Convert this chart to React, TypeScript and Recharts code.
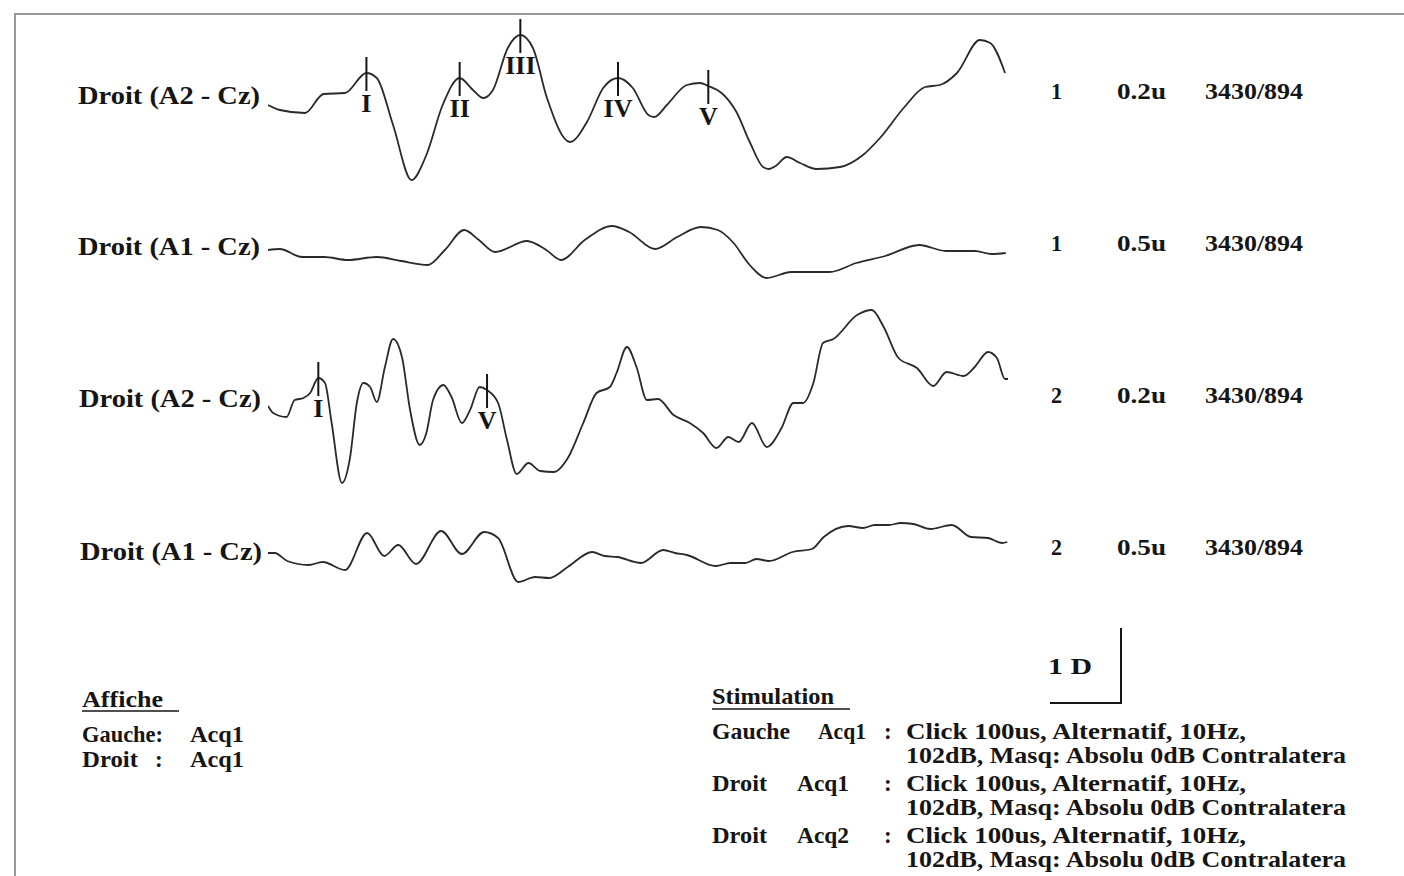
import React from 'react';
import { LineChart, Line, XAxis, YAxis, ReferenceDot } from 'recharts';

// time in ms (0-10), amplitude in arbitrary units (positive = up), relative to trace start
const traceA: [number, number][] = [
  [0, 0], [0.16, -5], [0.5, -8], [0.75, 11], [1.04, 12], [1.33, 32], [1.47, 27], [1.69, -20],
  [1.94, -75], [2.14, -50], [2.36, 0], [2.59, 27], [2.77, 15], [2.91, 7], [3.04, 15], [3.24, 57],
  [3.41, 70], [3.58, 57], [3.77, 7], [4.08, -37], [4.31, -17], [4.53, 17], [4.73, 27], [4.93, 17],
  [5.14, -10], [5.22, -12], [5.39, 0], [5.66, 20], [5.84, 22], [5.95, 19], [6.13, 12], [6.33, -7],
  [6.51, -37], [6.69, -62], [6.77, -64], [6.86, -61], [7.01, -52], [7.19, -58], [7.41, -64], [7.73, -62],
  [8.04, -50], [8.27, -33], [8.59, -3], [8.88, 18], [9.08, 20], [9.31, 32], [9.62, 65], [9.76, 62],
  [9.96, 32],
];

const traceB: [number, number][] = [
  [0, 0], [0.16, 1], [0.46, -7], [0.76, -7], [1.08, -10], [1.47, -7], [1.8, -11], [2.16, -15],
  [2.39, 0], [2.65, 20], [2.85, 10], [3.07, -2], [3.5, 9], [3.76, 0], [3.96, -10], [4.28, 10],
  [4.65, 24], [4.88, 18], [5.23, 1], [5.53, 13], [5.85, 23], [6.08, 20], [6.28, 8], [6.51, -15],
  [6.74, -28], [7.07, -22], [7.59, -22], [7.95, -13], [8.34, -6], [8.8, 5], [9.16, -1], [9.55, -1],
  [9.78, -4], [9.97, -3],
];

const traceC: [number, number][] = [
  [0, 0], [0.07, -7], [0.25, -11], [0.36, 6], [0.48, 8], [0.57, 13], [0.68, 28], [0.77, 23],
  [0.86, -17], [1.0, -77], [1.11, -51], [1.2, 3], [1.29, 23], [1.38, 19], [1.47, 4], [1.58, 39],
  [1.69, 67], [1.81, 49], [1.92, -4], [2.05, -39], [2.14, -27], [2.23, 6], [2.37, 21], [2.48, 9],
  [2.62, -17], [2.73, -4], [2.86, 19], [2.96, 16], [3.11, 3], [3.23, -34], [3.36, -68], [3.52, -57],
  [3.68, -65], [3.86, -66], [4.06, -51], [4.26, -17], [4.44, 13], [4.62, 19], [4.71, 33], [4.85, 59],
  [4.98, 39], [5.12, 6], [5.27, 7], [5.48, -9], [5.7, -17], [5.88, -27], [6.06, -42], [6.22, -31],
  [6.36, -36], [6.54, -17], [6.74, -41], [6.94, -22], [7.1, 3], [7.23, 3], [7.37, 23], [7.5, 63],
  [7.64, 67], [7.96, 91], [8.16, 96], [8.32, 79], [8.52, 48], [8.77, 38], [8.99, 20], [9.17, 34],
  [9.4, 30], [9.55, 39], [9.73, 54], [9.85, 48], [9.96, 27], [10, 27],
];

const traceD: [number, number][] = [
  [0, 0], [0.09, 0], [0.26, -8], [0.55, -12], [0.74, -9], [1.04, -17], [1.34, 20], [1.57, -3],
  [1.76, 8], [2.0, -11], [2.34, 22], [2.62, -1], [2.92, 21], [3.11, 15], [3.38, -29], [3.61, -24],
  [3.8, -25], [4.05, -14], [4.38, 1], [4.55, -3], [4.72, -4], [5.04, -10], [5.34, 3], [5.5, 0],
  [5.66, -2], [6.05, -13], [6.25, -10], [6.45, -10], [6.6, -6], [6.77, -8], [7.09, 1], [7.35, 4],
  [7.51, 16], [7.84, 27], [8.04, 25], [8.2, 28], [8.39, 28], [8.55, 30], [8.72, 29], [8.95, 24],
  [9.24, 28], [9.5, 16], [9.73, 15], [9.92, 10], [9.99, 11],
];

const peaksA = [
  { name: 'I', t: 1.33, v: 32 },
  { name: 'II', t: 2.59, v: 27 },
  { name: 'III', t: 3.41, v: 70 },
  { name: 'IV', t: 4.73, v: 27 },
  { name: 'V', t: 5.95, v: 19 },
];
const peaksC = [
  { name: 'I', t: 0.68, v: 28 },
  { name: 'V', t: 2.96, v: 16 },
];

const traceLabels = ['Droit (A2 - Cz)', 'Droit (A1 - Cz)', 'Droit (A2 - Cz)', 'Droit (A1 - Cz)'];
const acqNumbers = ['1', '1', '2', '2'];
const gains = ['0.2u', '0.5u', '0.2u', '0.5u'];
const sweeps = ['3430/894', '3430/894', '3430/894', '3430/894'];

const stimRows = [
  { side: 'Gauche', acq: 'Acq1', line1: 'Click 100us, Alternatif, 10Hz,', line2: '102dB, Masq: Absolu 0dB Contralatera' },
  { side: 'Droit', acq: 'Acq1', line1: 'Click 100us, Alternatif, 10Hz,', line2: '102dB, Masq: Absolu 0dB Contralatera' },
  { side: 'Droit', acq: 'Acq2', line1: 'Click 100us, Alternatif, 10Hz,', line2: '102dB, Masq: Absolu 0dB Contralatera' },
];

const INK = '#151515';
const FONT = '"Liberation Serif", "Times New Roman", serif';

// vertical bands for each trace (page pixels), 1 unit = 1px
const bands = [
  { top: 15, height: 180, domain: [-90, 90], labelX: 78, labelY: 104, colY: 99 },
  { top: 200, height: 100, domain: [-50, 50], labelX: 78, labelY: 255, colY: 251 },
  { top: 296, height: 220, domain: [-110, 110], labelX: 79, labelY: 407, colY: 403 },
  { top: 503, height: 100, domain: [-50, 50], labelX: 80, labelY: 560, colY: 555 },
];
const traces = [traceA, traceB, traceC, traceD];
const peaks = [peaksA, [], peaksC, []];

const PeakMark = ({ cx, cy, name }: any) => (
  <g>
    <line x1={cx} x2={cx} y1={cy - 16} y2={cy + 18} stroke={INK} strokeWidth={2} />
    <text x={cx} y={cy + 39} textAnchor="middle" fontFamily={FONT} fontWeight="bold" fontSize={26} fill={INK}>
      {name}
    </text>
  </g>
);

const Trace = ({ points, marks, band }: any) => {
  const data = points.map(([t, v]: [number, number]) => ({ t, v }));
  return (
    <div style={{ position: 'absolute', left: 268, top: band.top, width: 740, height: band.height }}>
      <LineChart width={740} height={band.height} data={data} margin={{ top: 0, right: 0, bottom: 0, left: 0 }} style={{ overflow: 'visible' }}>
        <XAxis type="number" dataKey="t" domain={[0, 10]} hide />
        <YAxis type="number" domain={band.domain} hide allowDataOverflow />
        <Line type="monotone" dataKey="v" stroke="#2a2a2a" strokeWidth={1.8} dot={false} isAnimationActive={false} />
        {marks.map((p: any) => (
          <ReferenceDot
            key={p.name}
            x={p.t}
            y={p.v}
            ifOverflow="visible"
            shape={(sp: any) => <PeakMark cx={sp.cx} cy={sp.cy} name={p.name} />}
          />
        ))}
      </LineChart>
    </div>
  );
};

const T = ({ x, y, len, size = 22, children }: any) => (
  <text
    x={x}
    y={y}
    fontFamily={FONT}
    fontWeight="bold"
    fontSize={size}
    fill={INK}
    textLength={len}
    lengthAdjust={len ? 'spacingAndGlyphs' : undefined}
    style={{ whiteSpace: 'pre' }}
  >
    {children}
  </text>
);

export default function App() {
  return (
    <div style={{ position: 'absolute', left: 0, top: 0, width: 1404, height: 876, background: '#fff', overflow: 'hidden' }}>
      <div style={{ position: 'absolute', left: 14, top: 13, width: 1390, height: 2, background: '#9a9a9a' }} />
      <div style={{ position: 'absolute', left: 14, top: 13, width: 2, height: 863, background: '#9a9a9a' }} />

      {traces.map((pts, i) => (
        <Trace key={i} points={pts} marks={peaks[i]} band={bands[i]} />
      ))}

      <svg width={1404} height={876} style={{ position: 'absolute', left: 0, top: 0, pointerEvents: 'none' }}>
        {bands.map((b, i) => (
          <g key={i}>
            <T x={b.labelX} y={b.labelY} len={182} size={26}>{traceLabels[i]}</T>
            <T x={1051} y={b.colY} len={11} size={24}>{acqNumbers[i]}</T>
            <T x={1117} y={b.colY} len={49} size={24}>{gains[i]}</T>
            <T x={1205} y={b.colY} len={98} size={24}>{sweeps[i]}</T>
          </g>
        ))}

        {/* calibration */}
        <T x={1048} y={674} len={44} size={24}>1 D</T>
        <line x1={1121} x2={1121} y1={628} y2={703} stroke={INK} strokeWidth={2} />
        <line x1={1050} x2={1122} y1={703} y2={703} stroke={INK} strokeWidth={2} />

        {/* Affiche */}
        <T x={82} y={707} len={81} size={23}>Affiche</T>
        <line x1={82} x2={179} y1={711} y2={711} stroke={INK} strokeWidth={1.5} />
        <T x={82} y={742} len={81} size={23}>Gauche:</T>
        <T x={190} y={742} len={54} size={23}>Acq1</T>
        <T x={82} y={767} len={56} size={23}>Droit</T>
        <T x={155} y={767} size={23}>:</T>
        <T x={190} y={767} len={54} size={23}>Acq1</T>

        {/* Stimulation */}
        <T x={712} y={704} len={122} size={23}>Stimulation</T>
        <line x1={712} x2={850} y1={709} y2={709} stroke={INK} strokeWidth={1.5} />
        {stimRows.map((r, i) => {
          const y = 739 + i * 52;
          const isG = r.side === 'Gauche';
          return (
            <g key={i}>
              <T x={712} y={y} len={isG ? 78 : 55} size={23}>{r.side}</T>
              <T x={isG ? 818 : 797} y={y} len={isG ? 48 : 52} size={23}>{r.acq}</T>
              <T x={884} y={y} size={23}>:</T>
              <T x={906} y={y} len={340} size={23}>{r.line1}</T>
              <T x={906} y={y + 24} len={440} size={23}>{r.line2}</T>
            </g>
          );
        })}
      </svg>
    </div>
  );
}
